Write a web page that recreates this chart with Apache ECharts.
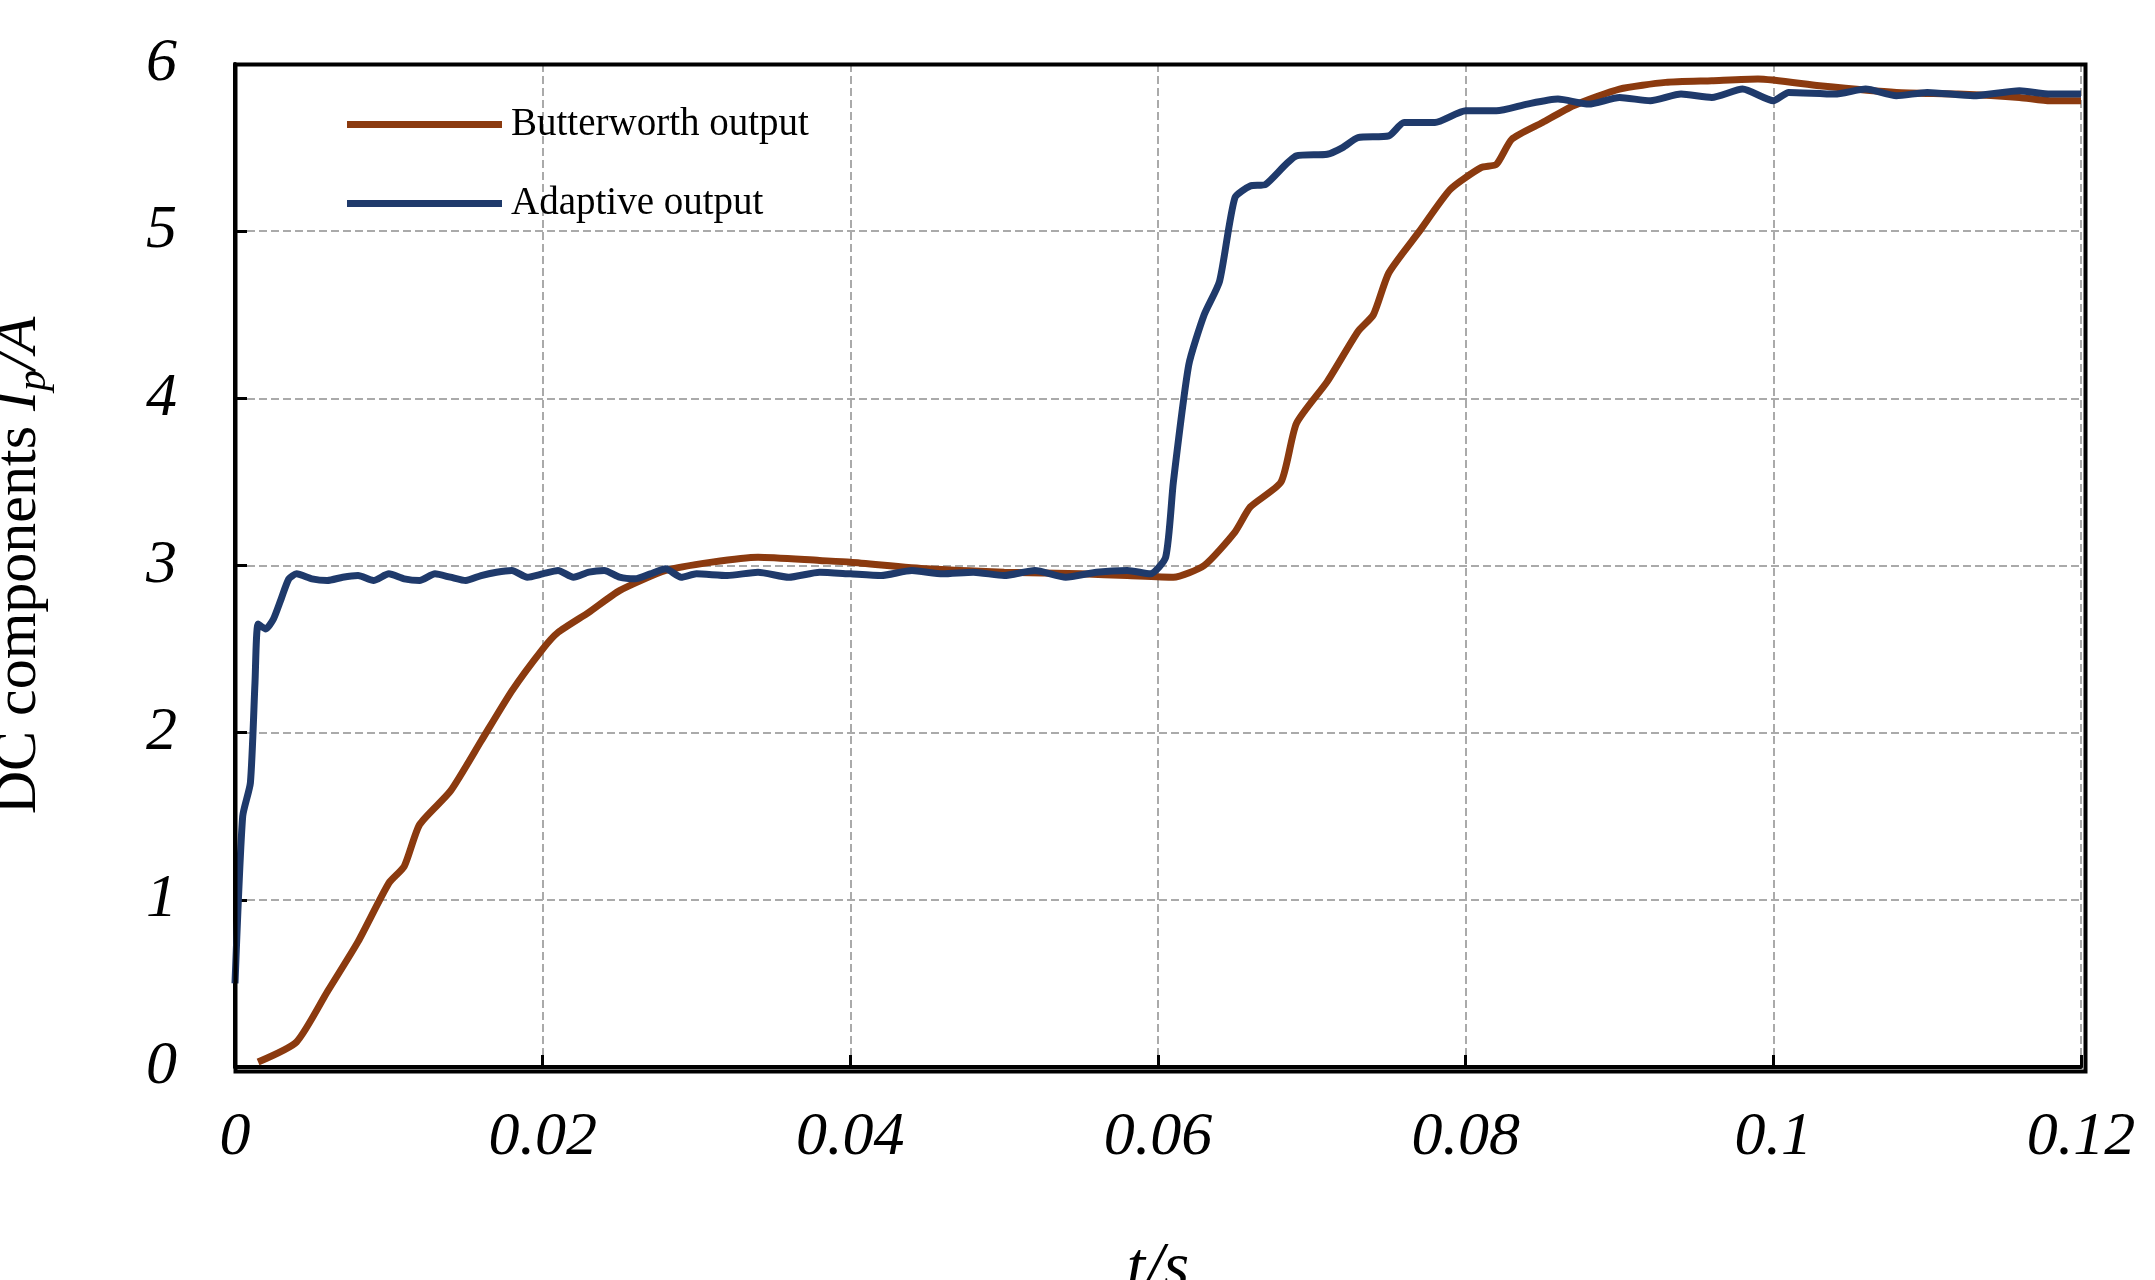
<!DOCTYPE html>
<html>
<head>
<meta charset="utf-8">
<script src="https://cdn.jsdelivr.net/npm/echarts@6/dist/echarts.min.js"></script>
<style>html,body{margin:0;padding:0;background:#fff}#chart{width:2155px;height:1280px}</style>
</head>
<body>
<div id="chart"></div>
<script>
// Butterworth output [t, I]
var butterT = [0.0015,0.004,0.006,0.008,0.010,0.011,0.012,0.014,0.016,0.018,0.020,0.021,0.023,0.025,0.028,0.031,0.034,0.038,0.040,0.045,0.050,0.055,0.058,0.061,0.063,0.065,0.066,0.068,0.069,0.071,0.073,0.074,0.075,0.077,0.079,0.081,0.082,0.083,0.085,0.087,0.090,0.093,0.096,0.099,0.103,0.108,0.112,0.116,0.118,0.120];
var butterI = [0.03,0.15,0.45,0.75,1.1,1.2,1.45,1.65,1.95,2.25,2.5,2.6,2.72,2.85,2.97,3.02,3.05,3.03,3.02,2.98,2.96,2.95,2.94,2.93,3.0,3.2,3.35,3.5,3.85,4.1,4.4,4.5,4.75,5.0,5.25,5.38,5.4,5.55,5.65,5.75,5.85,5.89,5.9,5.91,5.87,5.83,5.82,5.8,5.78,5.78];
// Adaptive output [t, I]
var adaptT = [0,0.0005,0.001,0.0013,0.0015,0.002,0.0025,0.003,0.0035,0.004,0.005,0.006,0.007,0.008,0.009,0.010,0.011,0.012,0.013,0.014,0.015,0.016,0.017,0.018,0.019,0.020,0.021,0.022,0.023,0.024,0.025,0.026,0.027,0.028,0.029,0.030,0.032,0.034,0.036,0.038,0.040,0.042,0.044,0.046,0.048,0.050,0.052,0.054,0.056,0.058,0.0595,0.0605,0.061,0.062,0.063,0.064,0.065,0.066,0.067,0.069,0.071,0.072,0.073,0.075,0.076,0.078,0.080,0.082,0.084,0.086,0.088,0.090,0.092,0.094,0.096,0.098,0.100,0.101,0.104,0.106,0.108,0.110,0.113,0.116,0.118,0.120];
var adaptI = [0.5,1.5,1.7,2.3,2.65,2.62,2.68,2.8,2.92,2.95,2.92,2.91,2.93,2.94,2.91,2.95,2.92,2.91,2.95,2.93,2.91,2.94,2.96,2.97,2.93,2.95,2.97,2.93,2.96,2.97,2.93,2.92,2.95,2.98,2.93,2.95,2.94,2.96,2.93,2.96,2.95,2.94,2.97,2.95,2.96,2.94,2.97,2.93,2.96,2.97,2.95,3.05,3.5,4.2,4.5,4.7,5.2,5.27,5.28,5.45,5.46,5.5,5.56,5.57,5.65,5.65,5.72,5.72,5.76,5.79,5.76,5.8,5.78,5.82,5.8,5.85,5.78,5.83,5.82,5.85,5.81,5.83,5.81,5.84,5.82,5.82];
var xTicks = [0,0.02,0.04,0.06,0.08,0.1,0.12];
var yTicks = [0,1,2,3,4,5,6];

function pairs(t, v) { return t.map(function (x, i) { return [x, v[i]]; }); }

var chart = echarts.init(document.getElementById('chart'));
var serif = 'Liberation Serif';
var grid = {type: 'dashed', color: '#aaa', width: 2};
chart.setOption({
    backgroundColor: '#fff',
    animation: false,
    grid: {left: 235, right: 74, top: 64, bottom: 213, containLabel: false, outerBoundsMode: 'none'},
    legend: {
        orient: 'vertical', left: 342, top: 100, itemGap: 40,
        itemWidth: 155, itemHeight: 7, icon: 'rect',
        textStyle: {fontFamily: serif, fontSize: 39, color: '#000', padding: [0, 0, 0, 4]},
        data: ['Butterworth output', 'Adaptive output']
    },
    xAxis: {
        type: 'value', min: 0, max: 0.12, interval: 0.02,
        name: 't/s', nameLocation: 'middle', nameGap: 170,
        nameTextStyle: {fontFamily: serif, fontStyle: 'italic', fontSize: 66, color: '#000'},
        axisLine: {lineStyle: {color: '#000', width: 4}},
        axisTick: {inside: true, length: 12, lineStyle: {color: '#000', width: 3}},
        axisLabel: {margin: 40, fontFamily: serif, fontStyle: 'italic', fontSize: 62, color: '#000',
            formatter: function (v) { return xTicks.indexOf(+v.toFixed(2)) >= 0 ? String(+v.toFixed(2)) : ''; }},
        splitLine: {show: true, lineStyle: grid}
    },
    yAxis: {
        type: 'value', min: 0, max: 6, interval: 1,
        name: '{n|DC components }{i|I}{s|p}{i|/A}', nameLocation: 'middle', nameGap: 180,
        nameTextStyle: {
            rich: {
                n: {fontFamily: serif, fontSize: 60, color: '#000'},
                i: {fontFamily: serif, fontStyle: 'italic', fontSize: 60, color: '#000'},
                s: {fontFamily: serif, fontStyle: 'italic', fontSize: 42, color: '#000', padding: [30, 0, 0, 0]}
            }
        },
        axisLine: {lineStyle: {color: '#000', width: 4}},
        axisTick: {inside: true, length: 12, lineStyle: {color: '#000', width: 3}},
        axisLabel: {margin: 58, fontFamily: serif, fontStyle: 'italic', fontSize: 62, color: '#000'},
        splitLine: {show: true, lineStyle: grid}
    },
    series: [
        {name: 'Butterworth output', type: 'line', showSymbol: false, smooth: 0.2,
            color: '#8B3A0F', lineStyle: {width: 7}, data: pairs(butterT, butterI)},
        {name: 'Adaptive output', type: 'line', showSymbol: false, smooth: 0.2,
            color: '#1F3A6B', lineStyle: {width: 7}, data: pairs(adaptT, adaptI)}
    ],
    graphic: [{type: 'rect', left: 233, top: 62, shape: {width: 1850, height: 1007},
        style: {fill: 'none', stroke: '#000', lineWidth: 4}, z: 10}]
});
</script>
</body>
</html>
